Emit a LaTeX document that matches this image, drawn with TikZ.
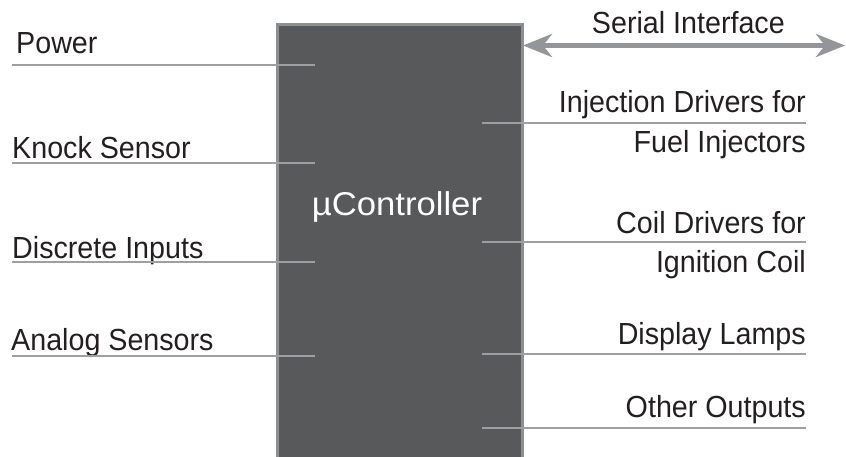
\documentclass[tikz,border=0pt]{standalone}
\usepackage{fontspec}
\setmainfont{Liberation Sans}[FakeStretch=0.94]
\newfontfamily\mcufont{Liberation Sans}[FakeStretch=1.05]
\usetikzlibrary{arrows.meta}
\definecolor{boxfill}{HTML}{58595B}
\definecolor{boxedge}{HTML}{8E8F91}
\definecolor{wirecol}{HTML}{9D9FA2}
\definecolor{buscol}{HTML}{939598}
\definecolor{ink}{HTML}{231F20}
\begin{document}
\begin{tikzpicture}[x=1pt,y=-1pt,
  lbl/.style={font=\fontsize{30.5}{30.5}\selectfont, text=ink, inner sep=0pt},
  inlbl/.style={lbl, anchor=base west},
  outlbl/.style={lbl, anchor=base east, align=right},
  wire/.style={draw=wirecol, line width=2pt},
  bus/.style={draw=buscol, fill=buscol, line width=5pt,
    {Stealth[length=29pt,width=23pt,inset=9pt]}-{Stealth[length=29pt,width=23pt,inset=9pt]}},
  mcubox/.style={fill=boxfill, draw=boxedge, line width=3pt, inner sep=0pt,
    minimum width=245pt, minimum height=470pt, anchor=north west}]
\useasboundingbox (0,0) rectangle (846,456);
\clip (0,0) rectangle (846,456);

% microcontroller body (runs off the bottom edge)
\node[mcubox] (mcu) at (275.5,22.5) {};
\node[font=\mcufont\fontsize{33}{33}\selectfont, text=white, anchor=base, inner sep=0pt]
  (mcuname) at (397,215) {µController};

% inputs on the left
\node[inlbl] (pwr)  at (16,53)  {Power};
\node[inlbl] (knk)  at (12,158) {Knock Sensor};
\node[inlbl] (dsc)  at (12,258) {Discrete Inputs};
\node[inlbl] (ana)  at (11,350) {Analog Sensors};
\foreach \n/\y in {pwr/65, knk/163, dsc/262, ana/356} {
  \coordinate (\n-a) at (12,\y);
  \coordinate (\n-b) at (315,\y);
  \draw[wire] (\n-a) -- (\n-b);
}

% outputs on the right
\node[outlbl] (inj)  at (806,112) {Injection Drivers for};
\node[outlbl] (inj2) at (806,152) {Fuel Injectors};
\node[outlbl] (coil) at (806,233) {Coil Drivers for};
\node[outlbl] (coil2) at (806,272) {Ignition Coil};
\node[outlbl] (lamp) at (806,344) {Display Lamps};
\node[outlbl] (oth)  at (806,417) {Other Outputs};
\foreach \n/\y in {inj/123, coil/242, lamp/354, oth/428} {
  \coordinate (\n-a) at (482,\y);
  \coordinate (\n-b) at (806,\y);
  \draw[wire] (\n-a) -- (\n-b);
}

% bidirectional serial link
\node[outlbl] (ser) at (785,33) {Serial Interface};
\coordinate (ser-a) at (523,45.5);
\coordinate (ser-b) at (845,45.5);
\draw[bus] (ser-a) -- (ser-b);
\end{tikzpicture}
\end{document}
